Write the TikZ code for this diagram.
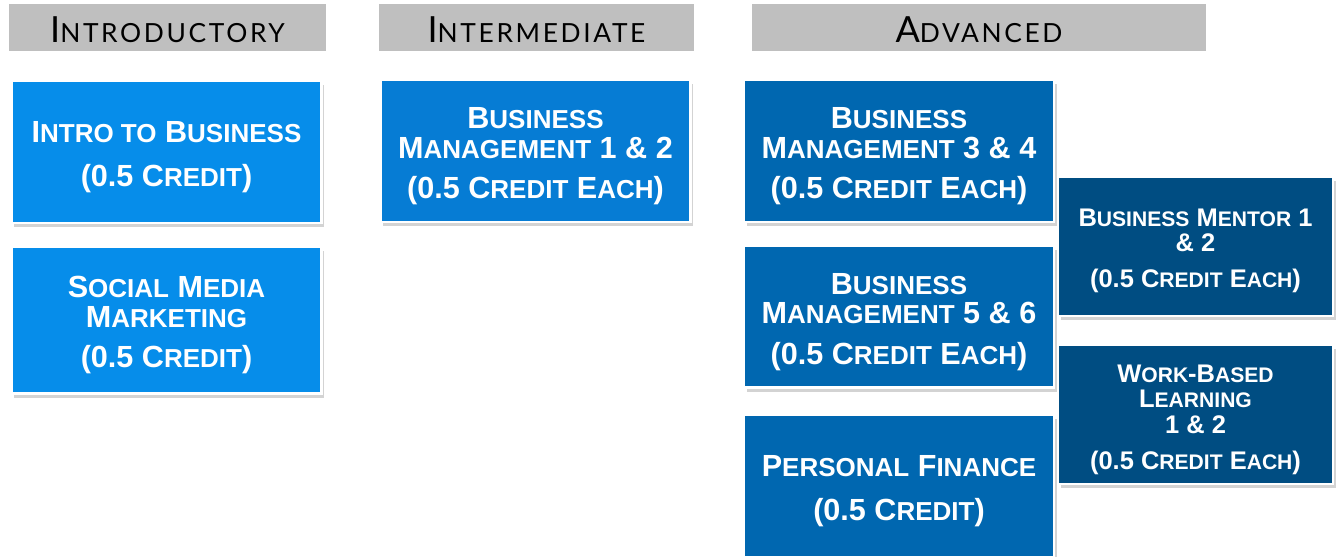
\documentclass[tikz,border=0pt]{standalone}
\usepackage{fontspec}
\setmainfont{Liberation Sans}
\newfontfamily\headfont{Lato}[LetterSpace=10]
\usetikzlibrary{shadows}

\definecolor{introblue}{RGB}{6,141,234}
\definecolor{midblue}{RGB}{6,124,212}
\definecolor{advblue}{RGB}{0,103,176}
\definecolor{deepblue}{RGB}{0,77,130}
\definecolor{headgray}{RGB}{191,191,191}

% smaller capitals inside the boxes and the headers
\newcommand{\sm}[1]{{\fontsize{14.8}{17}\selectfont #1}}
\newcommand{\smm}[1]{{\fontsize{12}{14.5}\selectfont #1}}
\newcommand{\hs}[1]{{\fontsize{15}{20}\selectfont #1}}
% taller first line, pushes the text a little down
\newcommand{\up}[1]{\rule{0pt}{#1}}

\begin{document}
\begin{tikzpicture}[x=0.02cm, y=-0.02cm,
  head/.style={fill=headgray, minimum height=0.94cm, inner sep=0pt,
    font=\headfont\fontsize{20.5}{22}\selectfont},
  course/.style={draw=white, line width=1.6pt, text=white, align=center,
    inner sep=0pt, minimum width=6.2cm, minimum height=2.84cm,
    font=\bfseries\fontsize{17.4}{17}\selectfont,
    drop shadow={shadow xshift=1.5pt, shadow yshift=-2.5pt, opacity=0.35}},
  small course/.style={course, minimum width=5.5cm, minimum height=2.78cm,
    font=\bfseries\fontsize{14.5}{14.5}\selectfont}]

\useasboundingbox (0,0) rectangle (1338,556);

% column headers
\node[head, minimum width=6.34cm] (hintro) at (167.5,27.5) {\up{17pt}I\hs{NTRODUCTORY}};
\node[head, minimum width=6.30cm] (hmid) at (536.5,27.5) {\up{17pt}I\hs{NTERMEDIATE}};
\node[head, minimum width=9.08cm] (hadv) at (979,27.5) {\up{17pt}A\hs{DVANCED}};

% introductory
\node[course, fill=introblue] (intro) at (166.5,152)
  {\up{18pt}I\sm{NTRO TO} B\sm{USINESS}\\[8pt] (0.5 C\sm{REDIT})};
\node[course, fill=introblue, minimum height=2.94cm] (social) at (166.5,320)
  {\up{18pt}S\sm{OCIAL} M\sm{EDIA}\\ M\sm{ARKETING}\\[6pt] (0.5 C\sm{REDIT})};

% intermediate
\node[course, fill=midblue] (bm12) at (535.5,151)
  {\up{18pt}B\sm{USINESS}\\ M\sm{ANAGEMENT} 1 \& 2\\[6pt] (0.5 C\sm{REDIT} E\sm{ACH})};

% advanced
\node[course, fill=advblue] (bm34) at (899,151)
  {\up{18pt}B\sm{USINESS}\\ M\sm{ANAGEMENT} 3 \& 4\\[6pt] (0.5 C\sm{REDIT} E\sm{ACH})};
\node[course, fill=advblue] (bm56) at (899,316.5)
  {\up{18pt}B\sm{USINESS}\\ M\sm{ANAGEMENT} 5 \& 6\\[6pt] (0.5 C\sm{REDIT} E\sm{ACH})};
\node[course, fill=advblue] (pfin) at (899,486)
  {\up{18pt}P\sm{ERSONAL} F\sm{INANCE}\\[8pt] (0.5 C\sm{REDIT})};

\node[small course, fill=deepblue] (mentor) at (1195.5,246.5)
  {\up{15pt}B\smm{USINESS} M\smm{ENTOR} 1\\ \& 2\\[6pt] (0.5 C\smm{REDIT} E\smm{ACH})};
\node[small course, fill=deepblue] (wbl) at (1195.5,414.5)
  {\up{16pt}W\smm{ORK}-B\smm{ASED}\\ L\smm{EARNING}\\ 1 \& 2\\[6pt] (0.5 C\smm{REDIT} E\smm{ACH})};

\end{tikzpicture}
\end{document}
